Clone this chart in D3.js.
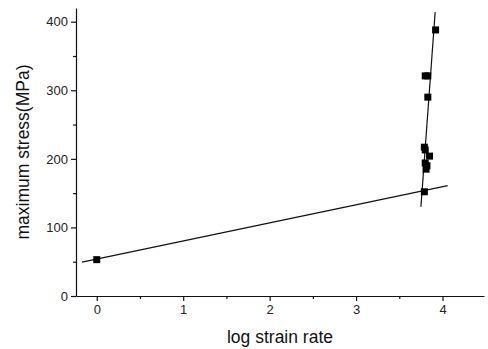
<!DOCTYPE html>
<html>
<head>
<meta charset="utf-8">
<script src="https://cdn.jsdelivr.net/npm/d3@7"></script>
<style>
  body { margin: 0; background: #fff; }
  svg { display: block; font-family: "Liberation Sans", Arial, sans-serif; }
</style>
</head>
<body>
<div id="chart"></div>
<script>
// measured points (log strain rate, maximum stress MPa)
const logRate = [0, 3.79, 3.79, 3.80, 3.85, 3.80, 3.82, 3.81, 3.83, 3.80, 3.83, 3.92];
const stress  = [53, 152, 217, 213, 204, 194, 190, 185, 290, 321, 321, 388];

// fitted lines, read as end points
const fitLowX = [-0.17, 4.06];
const fitLowY = [49.5, 161];
const fitHighX = [3.75, 3.915];
const fitHighY = [130, 414];

const xTicks = [0, 1, 2, 3, 4];
const yTicks = [0, 100, 200, 300, 400];

const width = 488, height = 349;
const margin = { top: 8, right: 4, bottom: 53, left: 76 };

const svg = d3.select("#chart").append("svg")
  .attr("width", width)
  .attr("height", height);

const x = d3.scaleLinear().domain([-0.24, 4.48]).range([margin.left, width - margin.right]);
const y = d3.scaleLinear().domain([0, 420]).range([height - margin.bottom, margin.top]);

// minor ticks
const xMinor = d3.axisBottom(x).tickValues([0.5, 1.5, 2.5, 3.5]).tickSize(3).tickFormat("");
const yMinor = d3.axisLeft(y).tickValues([50, 150, 250, 350]).tickSize(3).tickFormat("");

svg.append("g").attr("transform", `translate(0,${height - margin.bottom})`).call(xMinor)
  .call(g => g.select(".domain").remove());
svg.append("g").attr("transform", `translate(${margin.left},0)`).call(yMinor)
  .call(g => g.select(".domain").remove());

svg.append("g")
  .attr("class", "xAxis")
  .attr("transform", `translate(0,${height - margin.bottom})`)
  .call(d3.axisBottom(x).tickValues(xTicks).tickFormat(d3.format("d"))
    .tickSize(5).tickPadding(4).tickSizeOuter(0));

svg.append("g")
  .attr("class", "yAxis")
  .attr("transform", `translate(${margin.left},0)`)
  .call(d3.axisLeft(y).tickValues(yTicks).tickFormat(d3.format("d"))
    .tickSize(5).tickPadding(3).tickSizeOuter(0));

svg.selectAll(".xAxis text, .yAxis text")
  .style("font-size", "13px")
  .style("fill", "#222");
svg.selectAll("path.domain, .tick line").style("stroke", "#111").style("stroke-width", 1.2);

// fit lines
svg.append("line")
  .attr("x1", x(fitLowX[0])).attr("y1", y(fitLowY[0]))
  .attr("x2", x(fitLowX[1])).attr("y2", y(fitLowY[1]))
  .attr("stroke", "#111").attr("stroke-width", 1.2);
svg.append("line")
  .attr("x1", x(fitHighX[0])).attr("y1", y(fitHighY[0]))
  .attr("x2", x(fitHighX[1])).attr("y2", y(fitHighY[1]))
  .attr("stroke", "#111").attr("stroke-width", 1.2);

// points
const s = 7;
svg.append("g").selectAll("rect")
  .data(logRate)
  .enter()
  .append("rect")
  .attr("x", (d) => x(d) - s / 2)
  .attr("y", (d, i) => y(stress[i]) - s / 2)
  .attr("width", s)
  .attr("height", s)
  .attr("fill", "#000");

// axis titles
svg.append("text")
  .attr("x", (x(-0.24) + x(4.48)) / 2)
  .attr("y", 343)
  .attr("text-anchor", "middle")
  .style("font-size", "17.5px")
  .style("fill", "#111")
  .text("log strain rate");

svg.append("text")
  .attr("transform", `translate(29,${(y(0) + y(420)) / 2}) rotate(-90)`)
  .attr("text-anchor", "middle")
  .style("font-size", "17.5px")
  .style("fill", "#111")
  .text("maximum stress(MPa)");
</script>
</body>
</html>
